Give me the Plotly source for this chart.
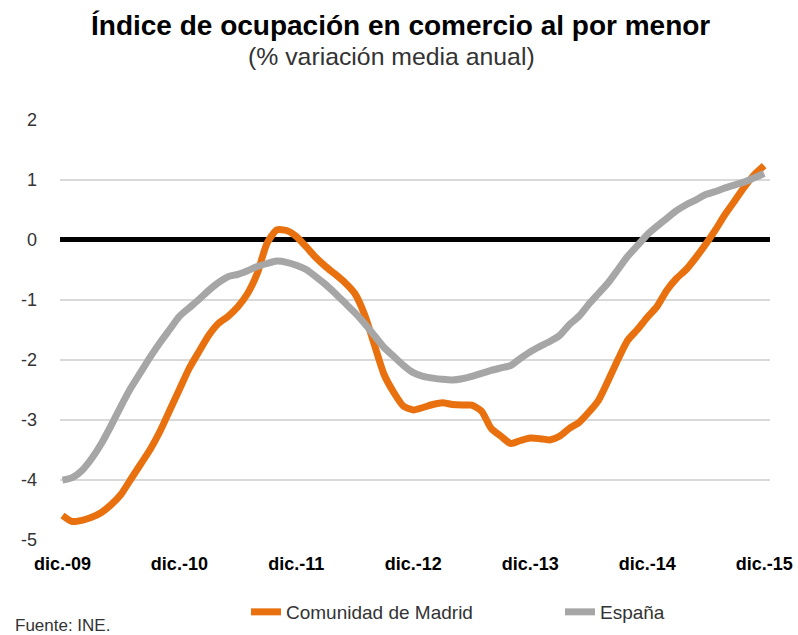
import plotly.graph_objects as go

# Monthly index: 0 = dic.-09 ... 72 = dic.-15
months = list(range(73))
tick_positions = [0, 12, 24, 36, 48, 60, 72]
tick_labels = ["dic.-09", "dic.-10", "dic.-11", "dic.-12", "dic.-13", "dic.-14", "dic.-15"]

madrid = [
    -4.60, -4.70, -4.68, -4.63, -4.55, -4.42, -4.25, -4.00, -3.75, -3.50, -3.20, -2.85,
    -2.50, -2.15, -1.87, -1.60, -1.40, -1.28, -1.12, -0.90, -0.56, -0.06, 0.16, 0.15,
    0.05, -0.12, -0.30, -0.45, -0.58, -0.72, -0.90, -1.25, -1.75, -2.25, -2.55, -2.78,
    -2.84, -2.80, -2.75, -2.72, -2.75, -2.76, -2.76, -2.86, -3.15, -3.28, -3.40, -3.35,
    -3.31, -3.32, -3.34, -3.28, -3.15, -3.05, -2.88, -2.68, -2.35, -2.00, -1.68, -1.50,
    -1.30, -1.12, -0.85, -0.65, -0.50, -0.30, -0.08, 0.16, 0.42, 0.65, 0.88, 1.08,
    1.23,
]

espana = [
    -4.01, -3.97, -3.85, -3.65, -3.40, -3.10, -2.78, -2.48, -2.22, -1.96, -1.72, -1.50,
    -1.28, -1.14, -1.00, -0.85, -0.72, -0.62, -0.58, -0.52, -0.45, -0.40, -0.36, -0.38,
    -0.43, -0.50, -0.62, -0.75, -0.90, -1.06, -1.22, -1.40, -1.60, -1.80, -1.95, -2.10,
    -2.22, -2.28, -2.31, -2.33, -2.34, -2.32, -2.28, -2.23, -2.18, -2.14, -2.10, -1.98,
    -1.87, -1.78, -1.70, -1.60, -1.42, -1.28, -1.08, -0.90, -0.72, -0.50, -0.28, -0.10,
    0.08, 0.22, 0.35, 0.48, 0.58, 0.66, 0.75, 0.80, 0.86, 0.91, 0.96, 1.03,
    1.10,
]

FONT = "Liberation Sans, Arial, Helvetica, sans-serif"

W, H = 798, 635
plot_l, plot_r, plot_t, plot_b = 60, 770, 119.5, 539.5


def px_x(v):
    return v / W


def px_y(v):
    return 1 - v / H


fig = go.Figure()
fig.add_trace(go.Scatter(
    x=months, y=madrid, mode="lines", name="Comunidad de Madrid", legend="legend",
    line=dict(color="#E8700E", width=7, shape="spline", smoothing=0.6),
))
fig.add_trace(go.Scatter(
    x=months, y=espana, mode="lines", name="España", legend="legend2",
    line=dict(color="#A6A6A6", width=7, shape="spline", smoothing=0.6),
))

legend_common = dict(
    orientation="h", yanchor="middle", y=px_y(612), xanchor="left",
    font=dict(size=19, color="#333333"), bgcolor="rgba(0,0,0,0)",
)

fig.update_layout(
    width=W, height=H,
    margin=dict(l=0, r=0, t=0, b=0, pad=0, autoexpand=False),
    paper_bgcolor="white", plot_bgcolor="white",
    font=dict(family=FONT, color="#333333"),
    showlegend=True,
    legend=dict(legend_common, x=px_x(246)),
    legend2=dict(legend_common, x=px_x(560)),
    xaxis=dict(
        domain=[px_x(plot_l), px_x(plot_r)],
        range=[-0.25, 72.6], tickmode="array", tickvals=tick_positions,
        ticktext=["<b>" + t + "</b>" for t in tick_labels],
        showgrid=False, zeroline=False, showline=False, ticks="",
        tickfont=dict(size=18, color="#000000"),
        ticklabelstandoff=11, automargin=False,
    ),
    yaxis=dict(
        domain=[px_y(plot_b), px_y(plot_t)],
        range=[-5, 2], tickmode="array", tickvals=[-5, -4, -3, -2, -1, 0, 1, 2],
        ticktext=["-5", "-4", "-3", "-2", "-1", "0", "1", "2"],
        showgrid=True, gridcolor="#D9D9D9", gridwidth=1.5,
        zeroline=True, zerolinecolor="#000000", zerolinewidth=5,
        showline=False, ticks="",
        tickfont=dict(size=18, color="#333333"),
        ticklabelstandoff=22, automargin=False,
    ),
    annotations=[
        dict(text="<b>Índice de ocupación en comercio al por menor</b>",
             x=px_x(400), y=px_y(26), xanchor="center", yanchor="middle",
             xref="paper", yref="paper", showarrow=False,
             font=dict(size=28, color="#000000")),
        dict(text="(% variación media anual)",
             x=px_x(391), y=px_y(56), xanchor="center", yanchor="middle",
             xref="paper", yref="paper", showarrow=False,
             font=dict(size=24.8, color="#333333")),
        dict(text="Fuente: INE.",
             x=px_x(13), y=px_y(625), xanchor="left", yanchor="middle",
             xref="paper", yref="paper", showarrow=False,
             font=dict(size=17, color="#333333")),
    ],
)

fig.write_html(
    "out.html",
    config={"displayModeBar": False},
    post_script="document.body.style.margin='0';document.body.style.overflow='hidden';",
)
